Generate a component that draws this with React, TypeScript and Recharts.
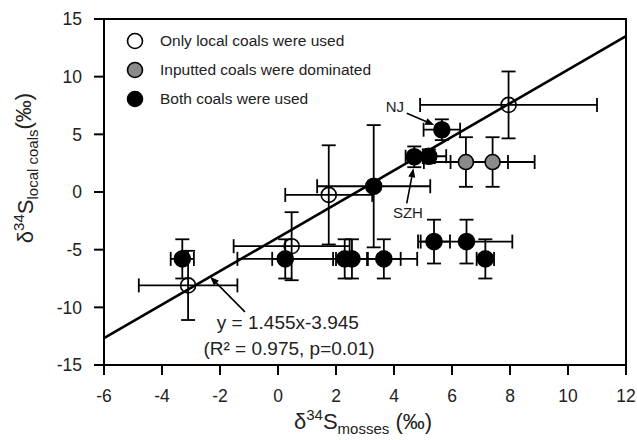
import { ErrorBar, Label, Legend, ReferenceArea, ReferenceDot, ReferenceLine, Scatter, ScatterChart, XAxis, YAxis } from "recharts"

const FONT = "Arial, 'Liberation Sans', Helvetica, sans-serif"

// only local coals were used (open circles)
const localX = [-3.1, 0.47, 1.75, 7.95]
const localY = [-8.1, -4.7, -0.25, 7.55]
const localXErr = [1.7, 2.0, 1.5, 3.05]
const localYErr = [3.0, 2.95, 4.3, 2.9]

// inputted coals were dominated (grey)
const inputX = [6.48, 7.4]
const inputY = [2.6, 2.6]
const inputXErr = [1.45, 1.45]
const inputYErr = [2.15, 2.15]

// both coals were used (black)
const bothX = [-3.3, 0.25, 2.3, 2.55, 3.65, 3.3, 4.7, 5.2, 5.65, 5.38, 6.5, 7.15]
const bothY = [-5.8, -5.8, -5.8, -5.8, -5.8, 0.5, 3.05, 3.1, 5.4, -4.3, -4.3, -5.8]
const bothXErr = [0.4, 1.65, 2.5, 0.55, 0.58, 1.95, 0.3, 0.6, 0.63, 0.55, 1.58, 0.3]
const bothYErr = [1.7, 1.7, 1.7, 1.7, 1.7, 5.3, 0.9, 0.6, 0.9, 1.9, 1.9, 1.7]

const legendNames = ["Only local coals were used", "Inputted coals were dominated", "Both coals were used"]

const xTicks = [-6, -4, -2, 0, 2, 4, 6, 8, 10, 12]
const yTicks = [-15, -10, -5, 0, 5, 10, 15]

const slope = 1.455
const intercept = -3.945

const toPoints = (xs: number[], ys: number[], xe: number[], ye: number[]) =>
  xs.map((x, i) => ({ x, y: ys[i], xErr: xe[i], yErr: ye[i] }))

const localData = toPoints(localX, localY, localXErr, localYErr)
const inputData = toPoints(inputX, inputY, inputXErr, inputYErr)
const bothData = toPoints(bothX, bothY, bothXErr, bothYErr)
const allData = [...localData, ...inputData, ...bothData]

const fills = ["none", "#8a8a8a", "#000"]

const dot = (fill: string) => (props: any) => (
  <circle cx={props.cx} cy={props.cy} r={fill === "#000" ? 8 : 7.5} fill={fill} stroke="#000" strokeWidth={1.6} />
)

const arrow = (props: any) => {
  const { x1, y1, x2, y2 } = props
  const a = Math.atan2(y2 - y1, x2 - x1)
  const len = 9
  const w = 3.5
  const bx = x2 - len * Math.cos(a)
  const by = y2 - len * Math.sin(a)
  const px = -Math.sin(a) * w
  const py = Math.cos(a) * w
  return (
    <g>
      <line x1={x1} y1={y1} x2={bx} y2={by} stroke="#000" strokeWidth={1.6} />
      <polygon points={`${x2},${y2} ${bx + px},${by + py} ${bx - px},${by - py}`} fill="#000" />
    </g>
  )
}

const note = (text: string, size: number) => (props: any) => (
  <text x={props.cx} y={props.cy} textAnchor="middle" dominantBaseline="central" fontSize={size} fontFamily={FONT} fill="#222">
    {text}
  </text>
)

const renderLegend = () => (
  <div style={{ fontFamily: FONT, fontSize: 15.5, color: "#222" }}>
    {legendNames.map((name, i) => (
      <div key={name} style={{ display: "flex", alignItems: "center", height: 28.7 }}>
        <svg width={18} height={18}>
          <circle cx={9} cy={9} r={7.5} fill={i === 0 ? "#fff" : fills[i]} stroke="#000" strokeWidth={1.6} />
        </svg>
        <span style={{ marginLeft: 16 }}>{name}</span>
      </div>
    ))}
  </div>
)

const XTitle = () => (
  <text x={363} y={429} textAnchor="middle" fontFamily={FONT} fill="#222">
    <tspan fontSize={22}>δ</tspan>
    <tspan fontSize={15} dy={-9}>34</tspan>
    <tspan fontSize={22} dy={9}>S</tspan>
    <tspan fontSize={15} dy={5}>mosses</tspan>
    <tspan fontSize={22} dy={-5}> (‰)</tspan>
  </text>
)

const YTitle = () => (
  <text transform="translate(33,168) rotate(-90)" textAnchor="middle" fontFamily={FONT} fill="#222">
    <tspan fontSize={22}>δ</tspan>
    <tspan fontSize={15} dy={-9}>34</tspan>
    <tspan fontSize={22} dy={9}>S</tspan>
    <tspan fontSize={15} dy={5}>local coals</tspan>
    <tspan fontSize={22} dy={-7}>(‰)</tspan>
  </text>
)

const tickStyle = { fontSize: 17.5, fill: "#222", fontFamily: FONT }

export default function App() {
  return (
    <div style={{ position: "absolute", left: 0, top: 0, background: "#fff" }}>
      <ScatterChart width={637} height={440} margin={{ top: 19, right: 11, left: 44, bottom: 35 }}>
        <XAxis
          type="number"
          dataKey="x"
          domain={[-6, 12]}
          ticks={xTicks}
          allowDataOverflow
          height={40}
          tick={tickStyle}
          tickSize={10}
          tickMargin={15}
          axisLine={{ stroke: "#000", strokeWidth: 2 }}
          tickLine={{ stroke: "#000", strokeWidth: 2 }}
          label={<Label content={XTitle} />}
        />
        <YAxis
          type="number"
          dataKey="y"
          domain={[-15, 15]}
          ticks={yTicks}
          allowDataOverflow
          width={60}
          tick={tickStyle}
          tickSize={10}
          tickMargin={12}
          axisLine={{ stroke: "#000", strokeWidth: 2 }}
          tickLine={{ stroke: "#000", strokeWidth: 2 }}
          label={<Label content={YTitle} />}
        />
        <ReferenceArea x1={-6} x2={12} y1={-15} y2={15} fill="none" stroke="#000" strokeWidth={2} fillOpacity={0} />
        <Legend layout="horizontal" verticalAlign="middle" align="center" content={renderLegend} wrapperStyle={{ top: 27, left: 126, width: 320 }} />
        <ReferenceLine
          segment={[
            { x: -6, y: slope * -6 + intercept },
            { x: 12, y: slope * 12 + intercept },
          ]}
          stroke="#000"
          strokeWidth={2.6}
          ifOverflow="visible"
        />
        <Scatter name="Only local coals were used" data={localData} shape={dot(fills[0])} isAnimationActive={false} />
        <Scatter name="Inputted coals were dominated" data={inputData} shape={dot(fills[1])} isAnimationActive={false} />
        <Scatter name="Both coals were used" data={bothData} shape={dot(fills[2])} isAnimationActive={false} />
        <Scatter data={allData} shape={() => <g />} legendType="none" isAnimationActive={false}>
          <ErrorBar dataKey="xErr" direction="x" width={7} stroke="#000" strokeWidth={1.8} />
          <ErrorBar dataKey="yErr" direction="y" width={7} stroke="#000" strokeWidth={1.8} />
        </Scatter>
        <ReferenceLine segment={[{ x: 4.44, y: 6.82 }, { x: 5.39, y: 5.81 }]} shape={arrow} ifOverflow="visible" />
        <ReferenceLine segment={[{ x: 4.44, y: -0.99 }, { x: 4.67, y: 2.05 }]} shape={arrow} ifOverflow="visible" />
        <ReferenceLine segment={[{ x: -1.14, y: -10.39 }, { x: -2.34, y: -7.35 }]} shape={arrow} ifOverflow="visible" />
        <ReferenceDot x={4.03} y={7.37} shape={note("NJ", 15)} ifOverflow="visible" />
        <ReferenceDot x={4.48} y={-1.74} shape={note("SZH", 15)} ifOverflow="visible" />
        <ReferenceDot x={0.34} y={-11.3} shape={note("y = 1.455x-3.945", 19)} ifOverflow="visible" />
        <ReferenceDot x={0.38} y={-13.6} shape={note("(R² = 0.975, p=0.01)", 19)} ifOverflow="visible" />
      </ScatterChart>
    </div>
  )
}
